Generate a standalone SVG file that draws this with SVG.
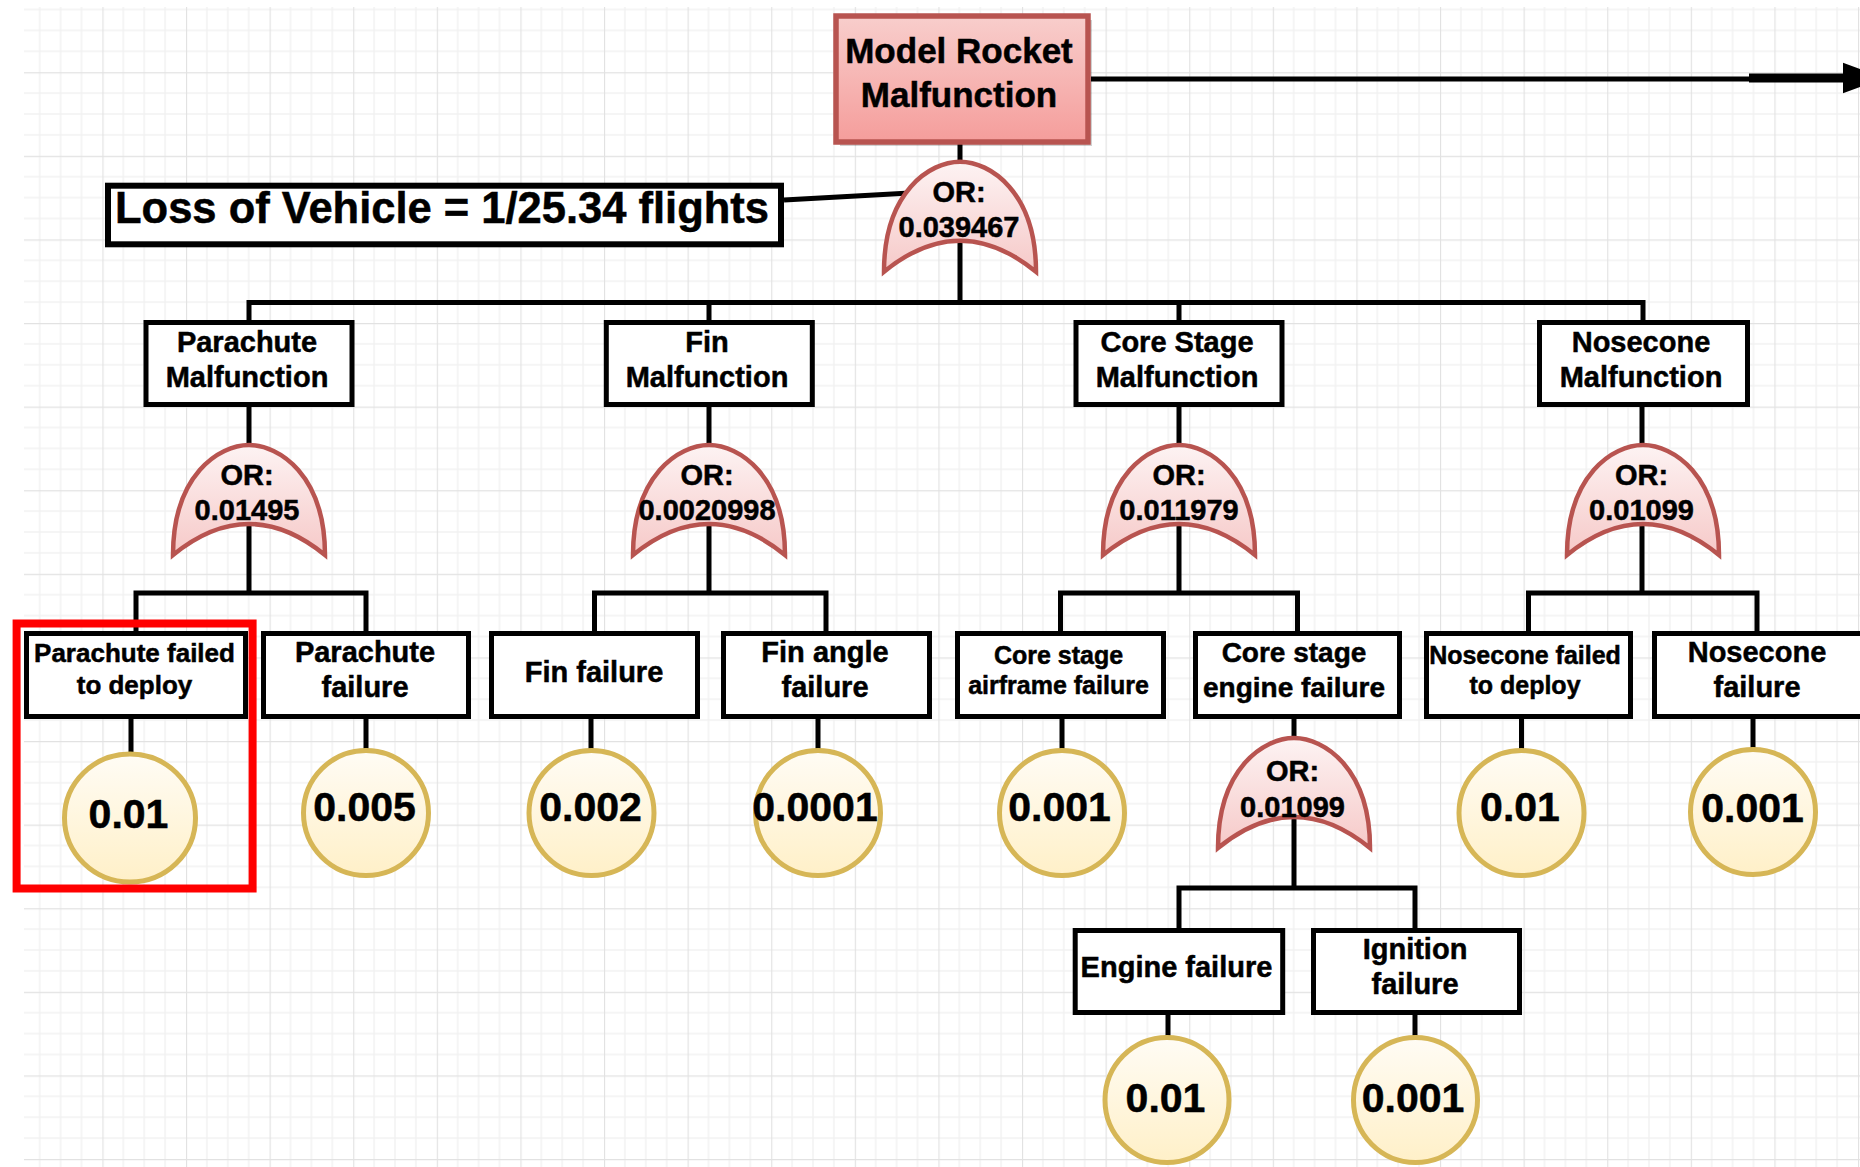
<svg xmlns="http://www.w3.org/2000/svg" xmlns:xlink="http://www.w3.org/1999/xlink" width="1860" height="1167" viewBox="0 0 1860 1167">
<style>
.box{fill:#fff;stroke:#000;stroke-width:5}
.gate{fill:url(#gGate);stroke:#b85450;stroke-width:4.5}
.ev{fill:url(#gEv);stroke:#d6b656;stroke-width:5}
.ln{stroke:#000;stroke-width:5;fill:none}
.t{font-family:"Liberation Sans",Arial,Helvetica,sans-serif;font-weight:bold;text-anchor:middle;fill:#000;stroke:#000;stroke-width:0.5}
.s29{font-size:29px}
.s28{font-size:28px}
.s26{font-size:26px}
.s25{font-size:25px}
.s41{font-size:41px}
</style>
<defs>
<pattern id="grid" width="83.6" height="83.6" patternUnits="userSpaceOnUse" x="18.8" y="-11.4">
<path d="M20.9 0V83.6M41.8 0V83.6M62.7 0V83.6M0 20.9H83.6M0 41.8H83.6M0 62.7H83.6" stroke="#f2f2f2" stroke-width="1.5" fill="none"/>
<path d="M0.5 0V83.6M0 0.5H83.6" stroke="#e2e2e2" stroke-width="1.3" fill="none"/>
</pattern>
<linearGradient id="gTop" x1="0" y1="0" x2="0" y2="1"><stop offset="0" stop-color="#f8cecc"/><stop offset="1" stop-color="#f59d9b"/></linearGradient>
<linearGradient id="gGate" x1="0" y1="0" x2="0" y2="1"><stop offset="0" stop-color="#fdf3f3"/><stop offset="1" stop-color="#f6c9c8"/></linearGradient>
<linearGradient id="gEv" x1="0" y1="0" x2="0" y2="1"><stop offset="0" stop-color="#fffcf5"/><stop offset="1" stop-color="#fff0c8"/></linearGradient>
<path id="orGate" d="M0,0 C30,0 76,30 76,110 Q0,48 -76,110 C-76,30 -30,0 0,0 Z"/>
</defs>
<rect width="1860" height="1167" fill="#fff"/>
<rect x="24" y="7" width="1836" height="1160" fill="url(#grid)"/>

<g id="connectors">
<path class="ln" d="M960,144 V302.5"/>
<path class="ln" d="M784,200 L928,192"/>
<path class="ln" d="M249,320 V302.5 H1643 V320 M709,302.5 V320 M1179,302.5 V320"/>
<path class="ln" d="M249,407 V593 M136,631 V593 H366 V631"/>
<path class="ln" d="M709,407 V593 M594.5,631 V593 H826 V631"/>
<path class="ln" d="M1179,407 V593 M1060.5,631 V593 H1297.5 V631"/>
<path class="ln" d="M1642,407 V593 M1528.5,631 V593 H1757 V631"/>
<path class="ln" d="M131,719 V755 M366,719 V751 M591,719 V751 M818,719 V751 M1062,719 V751 M1521.5,719 V751 M1753,719 V750"/>
<path class="ln" d="M1294,719 V888 M1179,928 V888 H1415 V928"/>
<path class="ln" d="M1168,1015 V1038 M1415,1015 V1038"/>
<path class="ln" d="M1091,79 H1750"/>
<path d="M1749,78 H1846" stroke="#000" stroke-width="9"/>
<polygon points="1843,62.7 1884,78 1843,93.3" fill="#000"/>
</g>

<g id="top-event">
<rect x="840" y="20" width="252" height="126" fill="#000" opacity="0.18"/>
<rect x="836" y="16" width="252" height="126" fill="url(#gTop)" stroke="#b85450" stroke-width="5.5"/>
<text class="t" x="959" y="63" font-size="35">Model Rocket</text>
<text class="t" x="959" y="107" font-size="35">Malfunction</text>
</g>

<g id="loss-label">
<rect x="108" y="185.7" width="673" height="58.6" fill="#fff" stroke="#000" stroke-width="6"/>
<text class="t" x="442" y="223" font-size="43.5">Loss of Vehicle = 1/25.34 flights</text>
</g>

<g id="gate-main">
<use xlink:href="#orGate" href="#orGate" class="gate" transform="translate(960,161.7)"/>
<text class="t s29" x="959" y="202">OR:</text>
<text class="t s29" x="959" y="237">0.039467</text>
</g>

<g id="parachute-malfunction"><rect class="box" x="146" y="322.5" width="206" height="82"/>
<text class="t s29" x="247" y="352">Parachute</text><text class="t s29" x="247" y="387">Malfunction</text></g>
<g id="fin-malfunction"><rect class="box" x="606.3" y="322.5" width="206" height="82"/>
<text class="t s29" x="707" y="352">Fin</text><text class="t s29" x="707" y="387">Malfunction</text></g>
<g id="core-malfunction"><rect class="box" x="1076" y="322.5" width="206" height="82"/>
<text class="t s29" x="1177" y="352">Core Stage</text><text class="t s29" x="1177" y="387">Malfunction</text></g>
<g id="nosecone-malfunction"><rect class="box" x="1539.5" y="322.5" width="208" height="82"/>
<text class="t s29" x="1641" y="352">Nosecone</text><text class="t s29" x="1641" y="387">Malfunction</text></g>

<g id="gate-parachute"><use xlink:href="#orGate" href="#orGate" class="gate" transform="translate(249,445)"/>
<text class="t s29" x="247" y="485">OR:</text><text class="t s29" x="247" y="520">0.01495</text></g>
<g id="gate-fin"><use xlink:href="#orGate" href="#orGate" class="gate" transform="translate(709,445)"/>
<text class="t s29" x="707" y="485">OR:</text><text class="t s29" x="707" y="520">0.0020998</text></g>
<g id="gate-core"><use xlink:href="#orGate" href="#orGate" class="gate" transform="translate(1179,445)"/>
<text class="t s29" x="1179" y="485">OR:</text><text class="t s29" x="1179" y="520">0.011979</text></g>
<g id="gate-nosecone"><use xlink:href="#orGate" href="#orGate" class="gate" transform="translate(1643,445)"/>
<text class="t s29" x="1641.5" y="485">OR:</text><text class="t s29" x="1641.5" y="520">0.01099</text></g>

<g id="parachute-failed-deploy"><rect class="box" x="26.5" y="633.5" width="219" height="83"/>
<text class="t s26" x="134.5" y="662">Parachute failed</text><text class="t s26" x="134.5" y="694">to deploy</text></g>
<g id="parachute-failure"><rect class="box" x="263.5" y="633.5" width="205" height="83"/>
<text class="t s29" x="365" y="662">Parachute</text><text class="t s29" x="365" y="697">failure</text></g>
<g id="fin-failure"><rect class="box" x="491.5" y="633.5" width="206" height="83"/>
<text class="t s29" x="594" y="682">Fin failure</text></g>
<g id="fin-angle-failure"><rect class="box" x="723.5" y="633.5" width="206" height="83"/>
<text class="t s29" x="825" y="662">Fin angle</text><text class="t s29" x="825" y="697">failure</text></g>
<g id="core-airframe-failure"><rect class="box" x="957.5" y="633.5" width="206" height="83"/>
<text class="t s25" x="1058.5" y="663.5">Core stage</text><text class="t s25" x="1058.5" y="694">airframe failure</text></g>
<g id="core-engine-failure"><rect class="box" x="1195.5" y="633.5" width="204" height="83"/>
<text class="t s28" x="1294" y="662">Core stage</text><text class="t s28" x="1294" y="697">engine failure</text></g>
<g id="nosecone-failed-deploy"><rect class="box" x="1426.5" y="633.5" width="204" height="83"/>
<text class="t s25" x="1525" y="663.5">Nosecone failed</text><text class="t s25" x="1525" y="694">to deploy</text></g>
<g id="nosecone-failure"><rect class="box" x="1654.5" y="633.5" width="210" height="83"/>
<text class="t s29" x="1757" y="662">Nosecone</text><text class="t s29" x="1757" y="697">failure</text></g>

<g id="gate-engine"><use xlink:href="#orGate" href="#orGate" class="gate" transform="translate(1294,738)"/>
<text class="t s29" x="1292.5" y="781">OR:</text><text class="t s29" x="1292.5" y="817">0.01099</text></g>

<g id="engine-failure"><rect class="box" x="1075.2" y="930.5" width="207.5" height="82"/>
<text class="t s29" x="1176.5" y="977">Engine failure</text></g>
<g id="ignition-failure"><rect class="box" x="1313.5" y="930.5" width="206" height="82"/>
<text class="t s29" x="1415" y="959">Ignition</text><text class="t s29" x="1415" y="994">failure</text></g>

<g id="ev-parachute-deploy"><ellipse class="ev" cx="130" cy="818" rx="65.5" ry="64"/><text class="t s41" x="128.5" y="828">0.01</text></g>
<g id="ev-parachute-failure"><ellipse class="ev" cx="366" cy="813" rx="62.5" ry="62.5"/><text class="t s41" x="364.5" y="820.5">0.005</text></g>
<g id="ev-fin-failure"><ellipse class="ev" cx="591.5" cy="813" rx="62.5" ry="62.5"/><text class="t s41" x="590.5" y="820.5">0.002</text></g>
<g id="ev-fin-angle"><ellipse class="ev" cx="818" cy="813" rx="62.5" ry="62.5"/><text class="t s41" x="815" y="820.5">0.0001</text></g>
<g id="ev-core-airframe"><ellipse class="ev" cx="1062" cy="813" rx="62.5" ry="62.5"/><text class="t s41" x="1059.5" y="820.5">0.001</text></g>
<g id="ev-nosecone-deploy"><ellipse class="ev" cx="1521.5" cy="813" rx="62.5" ry="62.5"/><text class="t s41" x="1520" y="820.5">0.01</text></g>
<g id="ev-nosecone-failure"><ellipse class="ev" cx="1753" cy="812" rx="62.5" ry="62.5"/><text class="t s41" x="1752.5" y="821.5">0.001</text></g>
<g id="ev-engine"><ellipse class="ev" cx="1167" cy="1100" rx="62" ry="62.5"/><text class="t s41" x="1165.5" y="1111.5">0.01</text></g>
<g id="ev-ignition"><ellipse class="ev" cx="1415.5" cy="1100" rx="62" ry="62.5"/><text class="t s41" x="1413" y="1111.5">0.001</text></g>

<g id="highlight">
<rect x="16.6" y="623.5" width="236" height="265" fill="none" stroke="#ff0000" stroke-width="8"/>
</g>
</svg>
